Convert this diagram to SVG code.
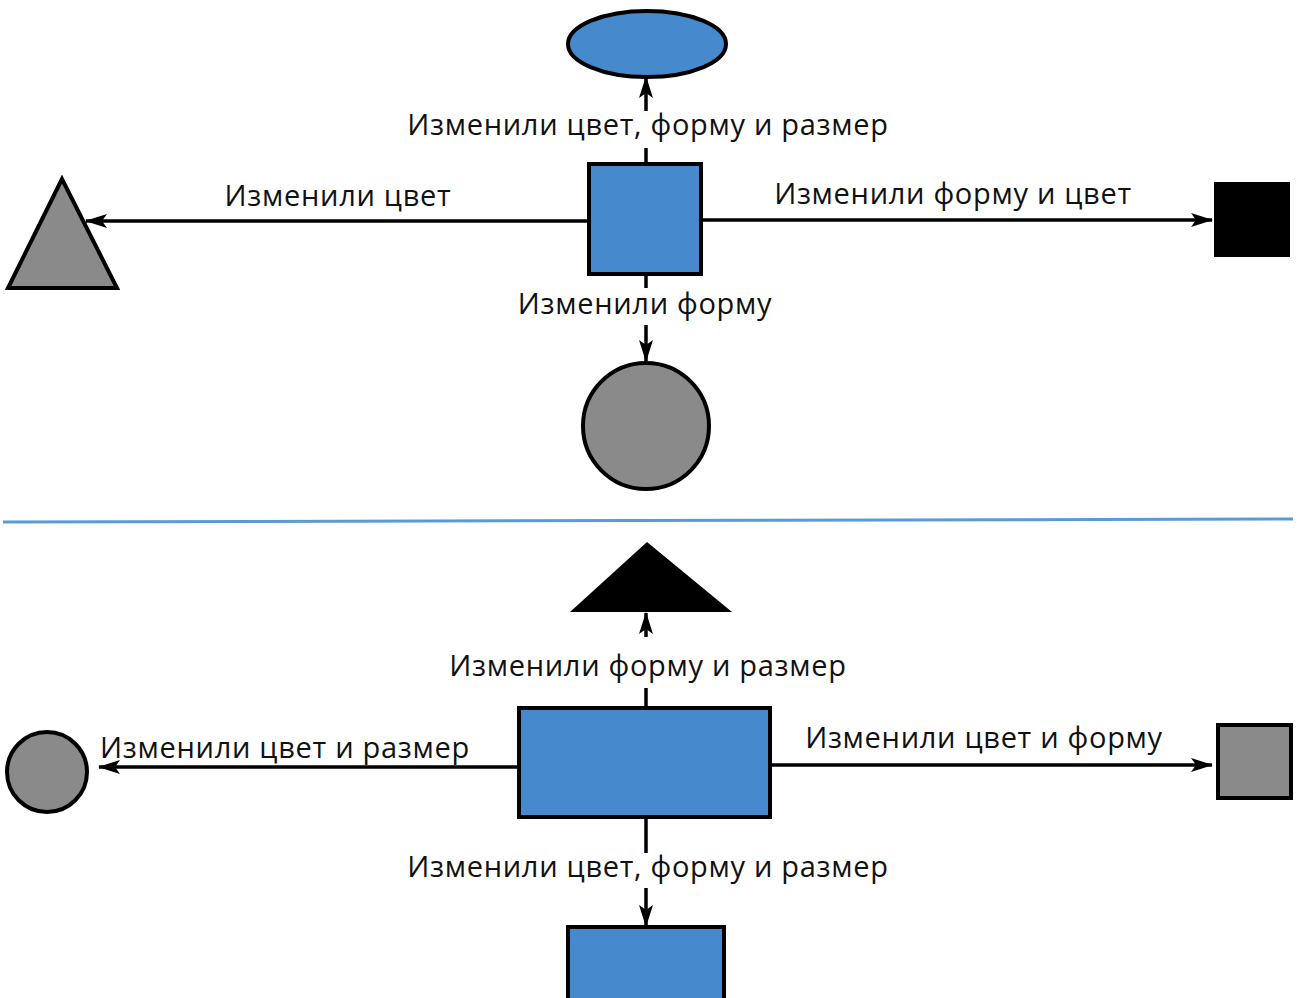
<svg xmlns="http://www.w3.org/2000/svg" width="1302" height="998" viewBox="0 0 1302 998">
<defs>
<marker id="ah" markerUnits="userSpaceOnUse" markerWidth="22" markerHeight="16" refX="21" refY="8" orient="auto">
<path d="M0,1 L22,8 L0,15 L5,8 Z" fill="#000"/>
</marker>
<style>
.lbl{font-family:"Open Sans","Noto Sans",sans-serif;font-size:29px;letter-spacing:0.7px;fill:#111;}
.ln{stroke:#000;stroke-width:3.5;fill:none;}
.blue{fill:#4689cc;stroke:#000;stroke-width:4;}
.gray{fill:#8a8a8a;stroke:#000;stroke-width:4;}
</style>
</defs>
<rect width="1302" height="998" fill="#fff"/>
<g id="connectors">
<line class="ln" x1="646" y1="164" x2="646" y2="148"/>
<line class="ln" x1="646" y1="111" x2="646" y2="77" marker-end="url(#ah)"/>
<line class="ln" x1="589" y1="221" x2="86" y2="221" marker-end="url(#ah)"/>
<line class="ln" x1="701" y1="220" x2="1212" y2="220" marker-end="url(#ah)"/>
<line class="ln" x1="646" y1="274" x2="646" y2="288"/>
<line class="ln" x1="646" y1="325" x2="646" y2="361" marker-end="url(#ah)"/>
<line x1="3" y1="522" x2="1293" y2="519" stroke="#5b9bd5" stroke-width="3"/>
<line class="ln" x1="646" y1="707" x2="646" y2="688"/>
<line class="ln" x1="646" y1="637" x2="646" y2="613" marker-end="url(#ah)"/>
<line class="ln" x1="518" y1="767" x2="99" y2="767" marker-end="url(#ah)"/>
<line class="ln" x1="771" y1="765" x2="1212" y2="765" marker-end="url(#ah)"/>
<line class="ln" x1="646" y1="817" x2="646" y2="853"/>
<line class="ln" x1="646" y1="888" x2="646" y2="926" marker-end="url(#ah)"/>
</g>
<g id="labels">
<text class="lbl" x="648" y="135" text-anchor="middle">Изменили цвет, форму и размер</text>
<text class="lbl" x="338" y="206" text-anchor="middle">Изменили цвет</text>
<text class="lbl" x="953" y="204" text-anchor="middle">Изменили форму и цвет</text>
<text class="lbl" x="645" y="314" text-anchor="middle">Изменили форму</text>
<text class="lbl" x="648" y="676" text-anchor="middle">Изменили форму и размер</text>
<text class="lbl" x="285" y="758" text-anchor="middle">Изменили цвет и размер</text>
<text class="lbl" x="984" y="748" text-anchor="middle">Изменили цвет и форму</text>
<text class="lbl" x="648" y="877" text-anchor="middle">Изменили цвет, форму и размер</text>
</g>
<g id="center-square"><rect class="blue" x="589" y="164" width="112" height="110"/></g>
<g id="ellipse"><ellipse class="blue" cx="647" cy="44" rx="79" ry="33"/></g>
<g id="gray-triangle"><polygon class="gray" points="62,179 8,288 117,288"/></g>
<g id="black-square"><rect x="1214" y="182" width="76" height="75" fill="#000"/></g>
<g id="gray-circle"><circle class="gray" cx="646" cy="426" r="63"/></g>
<g id="black-triangle"><polygon points="647,542 570,612 732,612" fill="#000"/></g>
<g id="center-rect"><rect class="blue" x="519" y="708" width="251" height="109"/></g>
<g id="small-circle"><circle class="gray" cx="47" cy="772" r="40"/></g>
<g id="gray-square"><rect class="gray" x="1218" y="725" width="73" height="73"/></g>
<g id="bottom-rect"><rect class="blue" x="568" y="927" width="156" height="80"/></g>
</svg>
